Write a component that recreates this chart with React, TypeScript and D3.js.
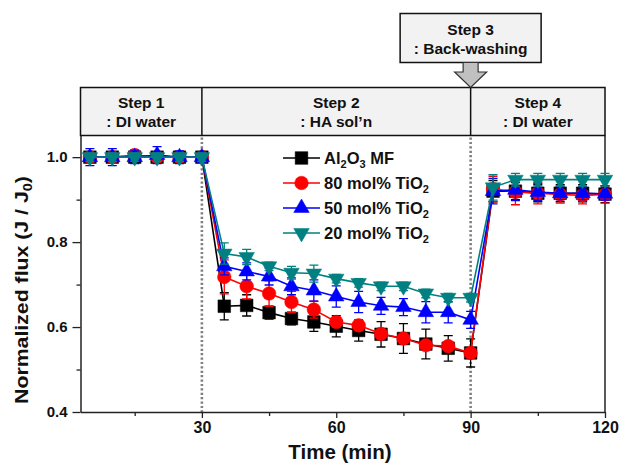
import { useRef, useEffect } from 'react';
import * as d3 from 'd3';

const TIME = [5, 10, 15, 20, 25, 30, 35, 40, 45, 50, 55, 60, 65, 70, 75, 80, 85, 90, 95, 100, 105, 110, 115, 120];

const AL2O3 = [1.0, 1.0, 1.0, 1.0, 1.0, 1.0,
  0.649, 0.651, 0.634, 0.62, 0.612, 0.602, 0.592, 0.583, 0.573, 0.56, 0.55, 0.539,
  0.92, 0.92, 0.915, 0.915, 0.915, 0.913];
const AL2O3_ERR = [0.01, 0.012, 0.01, 0.012, 0.008, 0.01,
  0.032, 0.025, 0.015, 0.015, 0.022, 0.025, 0.025, 0.03, 0.035, 0.035, 0.03, 0.033,
  0.025, 0.02, 0.02, 0.02, 0.02, 0.02];

const TIO2_80 = [1.0, 1.0, 1.005, 1.0, 1.0, 1.0,
  0.718, 0.696, 0.679, 0.659, 0.641, 0.612, 0.604, 0.584, 0.573, 0.557, 0.555, 0.539,
  0.925, 0.918, 0.915, 0.912, 0.91, 0.912];
const TIO2_80_ERR = [0.01, 0.01, 0.012, 0.01, 0.01, 0.01,
  0.04, 0.03, 0.03, 0.025, 0.02, 0.012, 0.01, 0.01, 0.01, 0.01, 0.01, 0.01,
  0.03, 0.03, 0.025, 0.02, 0.02, 0.02];

const TIO2_50 = [1.0, 1.0, 1.0, 1.005, 1.0, 1.0,
  0.743, 0.731, 0.719, 0.696, 0.686, 0.672, 0.659, 0.65, 0.647, 0.635, 0.635, 0.617,
  0.92, 0.923, 0.918, 0.915, 0.915, 0.914];
const TIO2_50_ERR = [0.02, 0.02, 0.015, 0.02, 0.015, 0.012,
  0.02, 0.02, 0.02, 0.02, 0.025, 0.025, 0.025, 0.02, 0.02, 0.025, 0.025, 0.02,
  0.03, 0.025, 0.02, 0.015, 0.015, 0.015];

const TIO2_20 = [1.0, 1.0, 1.0, 1.0, 1.0, 1.0,
  0.773, 0.765, 0.743, 0.728, 0.726, 0.714, 0.704, 0.696, 0.696, 0.679, 0.669, 0.669,
  0.929, 0.947, 0.947, 0.947, 0.947, 0.947];
const TIO2_20_ERR = [0.01, 0.01, 0.01, 0.01, 0.01, 0.01,
  0.025, 0.018, 0.01, 0.015, 0.02, 0.01, 0.01, 0.01, 0.01, 0.01, 0.01, 0.01,
  0.03, 0.015, 0.015, 0.015, 0.015, 0.015];

const X_TICKS = [30, 60, 90, 120];
const X_MINOR = [15, 45, 75, 105];
const Y_TICKS = [0.4, 0.6, 0.8, 1.0];
const Y_MINOR = [0.5, 0.7, 0.9];

const STEP_BOUNDS = [30, 90];
const STEPS = [
  ['Step 1', ': DI water'],
  ['Step 2', ': HA sol\u2019n'],
  ['Step 4', ': DI water'],
];
const STEP3 = ['Step 3', ': Back-washing'];

const SERIES = [
  { name: ['Al', '2', 'O', '3', ' MF'], values: AL2O3, err: AL2O3_ERR, color: '#000000', shape: 'square' },
  { name: ['80 mol% TiO', '2'], values: TIO2_80, err: TIO2_80_ERR, color: '#ff0000', shape: 'circle' },
  { name: ['50 mol% TiO', '2'], values: TIO2_50, err: TIO2_50_ERR, color: '#0000ff', shape: 'up' },
  { name: ['20 mol% TiO', '2'], values: TIO2_20, err: TIO2_20_ERR, color: '#008080', shape: 'down' },
];

const FONT = '"Liberation Sans", Arial, sans-serif';

function symbolPath(shape: string) {
  if (shape === 'square') return d3.symbol(d3.symbolSquare, 160)();
  if (shape === 'circle') return d3.symbol(d3.symbolCircle, 145)();
  return d3.symbol(d3.symbolTriangle, 105)();
}

export default function App() {
  const svgRef = useRef<SVGSVGElement>(null);
  const width = 620;
  const height = 463;

  useEffect(() => {
    const svg = d3.select(svgRef.current);
    svg.selectAll('*').remove();

    const left = 80.5, right = 605, top = 135.5, bottom = 412;
    const x = d3.scaleLinear().domain([2.9, 120]).range([left, right]);
    const y = d3.scaleLinear().domain([0.4, 1.051]).range([bottom, top]);

    // step header
    const hdr = svg.append('g');
    hdr.append('rect')
      .attr('x', left).attr('y', 87.5).attr('width', right - left).attr('height', top - 87.5)
      .attr('fill', '#f2f2f2').attr('stroke', '#111').attr('stroke-width', 1.5);
    STEP_BOUNDS.forEach((t) => {
      hdr.append('line').attr('x1', x(t)).attr('x2', x(t)).attr('y1', 87.5).attr('y2', top)
        .attr('stroke', '#111').attr('stroke-width', 1.5);
    });
    const edges = [left, x(STEP_BOUNDS[0]), x(STEP_BOUNDS[1]), right];
    STEPS.forEach((s, i) => {
      const cx = (edges[i] + edges[i + 1]) / 2;
      const t = hdr.append('text').attr('text-anchor', 'middle')
        .style('font-family', FONT).style('font-weight', 'bold').style('font-size', '15.5px').attr('fill', '#111');
      t.append('tspan').attr('x', cx).attr('y', 107.5).text(s[0]);
      t.append('tspan').attr('x', cx).attr('y', 126.5).text(s[1]);
    });

    // step 3 box + arrow
    const ax = x(STEP_BOUNDS[1]);
    hdr.append('rect').attr('x', ax - 70.5).attr('y', 13.5).attr('width', 141).attr('height', 49)
      .attr('fill', '#f2f2f2').attr('stroke', '#111').attr('stroke-width', 1.5);
    const t3 = hdr.append('text').attr('text-anchor', 'middle')
      .style('font-family', FONT).style('font-weight', 'bold').style('font-size', '15.5px').attr('fill', '#111');
    t3.append('tspan').attr('x', ax).attr('y', 34.5).text(STEP3[0]);
    t3.append('tspan').attr('x', ax).attr('y', 53.5).text(STEP3[1]);
    hdr.append('path')
      .attr('d', `M${ax - 7.5},62.5 L${ax + 7.5},62.5 L${ax + 7.5},72 L${ax + 16},72 L${ax},87.5 L${ax - 16},72 L${ax - 7.5},72 Z`)
      .attr('fill', '#c0c0c0').attr('stroke', '#333').attr('stroke-width', 1.2);

    // dotted step dividers
    STEP_BOUNDS.forEach((t) => {
      svg.append('line').attr('x1', x(t)).attr('x2', x(t)).attr('y1', top + 2).attr('y2', bottom)
        .attr('stroke', '#808080').attr('stroke-width', 2.6).attr('stroke-dasharray', '2.2,2.2');
    });

    // axes
    const styleAxis = (g: any, size: string) => {
      g.select('.domain').attr('stroke', '#222').attr('stroke-width', 1.5);
      g.selectAll('.tick line').attr('stroke', '#222').attr('stroke-width', 1.3);
      g.selectAll('text').attr('fill', '#111').style('font-family', FONT)
        .style('font-weight', 'bold').style('font-size', size);
    };
    svg.append('g').attr('transform', `translate(0,${bottom})`)
      .call(d3.axisBottom(x).tickValues(X_MINOR).tickSize(4).tickFormat(() => '').tickSizeOuter(0))
      .call((g: any) => { styleAxis(g, '16px'); g.select('.domain').remove(); });
    svg.append('g').attr('transform', `translate(0,${bottom})`)
      .call(d3.axisBottom(x).tickValues(X_TICKS).tickSize(6).tickSizeOuter(0).tickPadding(4))
      .call((g: any) => styleAxis(g, '16px'));
    svg.append('g').attr('transform', `translate(${left},0)`)
      .call(d3.axisLeft(y).tickValues(Y_MINOR).tickSize(4).tickFormat(() => '').tickSizeOuter(0))
      .call((g: any) => { styleAxis(g, '15px'); g.select('.domain').remove(); });
    svg.append('g').attr('transform', `translate(${left},0)`)
      .call(d3.axisLeft(y).tickValues(Y_TICKS).tickSize(8).tickSizeOuter(0).tickPadding(5)
        .tickFormat(d3.format('.1f')))
      .call((g: any) => styleAxis(g, '15px'));
    svg.append('line').attr('x1', right).attr('x2', right).attr('y1', top).attr('y2', bottom)
      .attr('stroke', '#222').attr('stroke-width', 1.5);

    // axis titles
    svg.append('text').attr('x', 340).attr('y', 459).attr('text-anchor', 'middle')
      .style('font-family', FONT).style('font-weight', 'bold').style('font-size', '20.5px')
      .attr('fill', '#111').text('Time (min)');
    const yt = svg.append('text').attr('transform', 'translate(28,290) rotate(-90) scale(1.12,1)')
      .attr('text-anchor', 'middle')
      .style('font-family', FONT).style('font-weight', 'bold').style('font-size', '19px').attr('fill', '#111');
    yt.append('tspan').text('Normalized flux (J / J');
    yt.append('tspan').attr('font-size', '13px').attr('dy', 4).text('0');
    yt.append('tspan').attr('dy', -4).text(')');

    // series
    const line = d3.line<number>().x((_, i) => x(TIME[i])).y((d) => y(d));
    SERIES.forEach((s) => {
      const g = svg.append('g');
      g.append('path').datum(s.values).attr('d', line).attr('fill', 'none')
        .attr('stroke', s.color).attr('stroke-width', 1.6);
      s.values.forEach((v, i) => {
        const cx = x(TIME[i]);
        const y1 = y(v + s.err[i]);
        const y2 = y(v - s.err[i]);
        g.append('path')
          .attr('d', `M${cx},${y1}V${y2}M${cx - 4.5},${y1}H${cx + 4.5}M${cx - 4.5},${y2}H${cx + 4.5}`)
          .attr('stroke', s.color).attr('stroke-width', 1.3).attr('fill', 'none');
      });
      s.values.forEach((v, i) => {
        g.append('path').attr('d', symbolPath(s.shape))
          .attr('transform', `translate(${x(TIME[i])},${y(v)})${s.shape === 'down' ? ' rotate(180)' : ''}`)
          .attr('fill', s.color).attr('stroke', s.color).attr('stroke-width', 0.5);
      });
    });

    // legend
    const lg = svg.append('g').attr('transform', 'translate(283,0)');
    SERIES.forEach((s, i) => {
      const ly = 158 + i * 25;
      lg.append('line').attr('x1', 0).attr('x2', 37).attr('y1', ly).attr('y2', ly)
        .attr('stroke', s.color).attr('stroke-width', 1.6);
      lg.append('path').attr('d', symbolPath(s.shape))
        .attr('transform', `translate(18.5,${ly})${s.shape === 'down' ? ' rotate(180)' : ''}`)
        .attr('fill', s.color).attr('stroke', s.color).attr('stroke-width', 0.5);
      const t = lg.append('text').attr('x', 41).attr('y', ly + 6)
        .style('font-family', FONT).style('font-weight', 'bold').style('font-size', '16.5px').attr('fill', '#111');
      s.name.forEach((part, k) => {
        const sub = /^\d$/.test(part) && k > 0;
        const prevSub = k > 0 && /^\d$/.test(s.name[k - 1]);
        const ts = t.append('tspan').text(part);
        if (sub) ts.attr('font-size', '11px').attr('dy', 4);
        else if (prevSub) ts.attr('dy', -4);
      });
    });
  }, []);

  return (
    <svg ref={svgRef} width={width} height={height}
      style={{ position: 'absolute', left: 0, top: 0, background: '#fff' }} />
  );
}
